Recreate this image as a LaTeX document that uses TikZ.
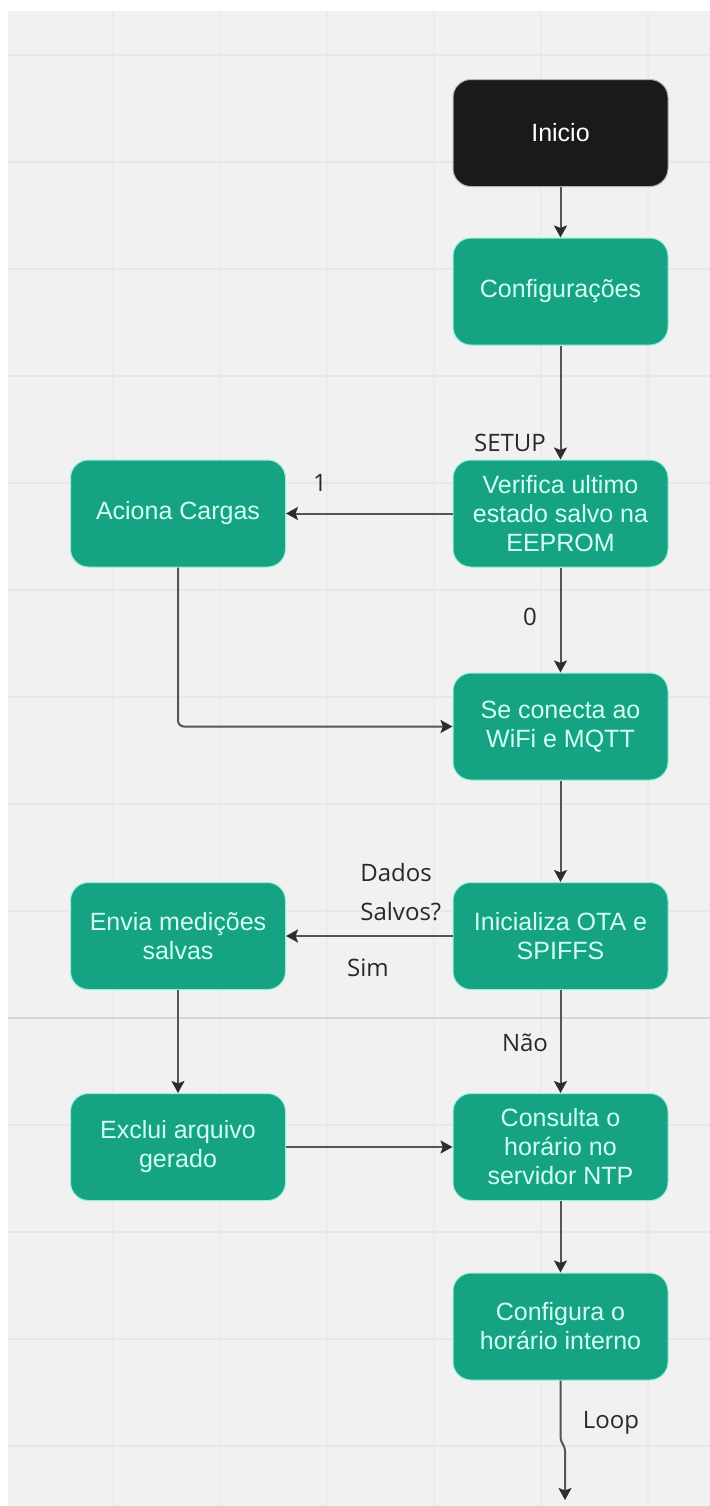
\documentclass[tikz,border=0pt]{standalone}
\usepackage{fontspec}
\setmainfont{Liberation Sans}
\newfontfamily\lblfont{Open Sans}
\usetikzlibrary{arrows.meta}
\definecolor{boxgreen}{RGB}{22,163,132}
\definecolor{boxtext}{RGB}{210,255,240}
\definecolor{boxedge}{RGB}{150,240,215}
\definecolor{startfill}{RGB}{26,26,26}
\definecolor{canvas}{RGB}{241,241,241}
\definecolor{gridv}{RGB}{235,235,235}
\definecolor{gridh}{RGB}{231,231,231}
\definecolor{gridmajor}{RGB}{214,214,214}
\definecolor{linkgray}{RGB}{85,85,85}
\definecolor{tipgray}{RGB}{45,45,45}
\definecolor{labelgray}{RGB}{40,40,40}

\begin{document}
\begin{tikzpicture}[x=0.5pt,y=-0.5pt,
  stepbox/.style={rectangle, rounded corners=9pt, minimum width=107.5pt,
    minimum height=53.5pt, fill=boxgreen, draw=boxedge, line width=0.5pt,
    text=boxtext, align=center, font=\fontsize{12.5}{14.5}\selectfont, inner sep=0pt},
  startbox/.style={stepbox, fill=startfill, draw=gray!60, text=white},
  conn/.style={draw=linkgray, line width=1pt,
    -{Stealth[length=6pt,width=6.5pt,inset=1.2pt,fill=tipgray,color=tipgray]}},
  lbl/.style={font=\lblfont\fontsize{12}{15}\selectfont, text=labelgray, inner sep=0pt}
]
% canvas and grid
\useasboundingbox (0,0) rectangle (710,1506);
\fill[white] (0,0) rectangle (710,1506);
\fill[canvas] (8,11) rectangle (710,1506);
\foreach \gx in {113,220,327,434,541,648}
  \draw[gridv, line width=1pt] (\gx,11) -- (\gx,1506);
\foreach \gy in {55,162,269,376,483,590,697,804,911,1125,1232,1339,1446}
  \draw[gridh, line width=0.8pt] (8,\gy) -- (710,\gy);
\draw[gridmajor, line width=0.7pt] (8,1018) -- (710,1018);

% process steps
\node[startbox] (start)    at (560.5,133)    {Inicio};
\node[stepbox]  (cfgs)     at (560.5,291.5)  {Configurações};
\node[stepbox]  (verif)    at (560.5,513.5)  {Verifica ultimo\\estado salvo na\\EEPROM};
\node[stepbox]  (aciona)   at (178,513.5)    {Aciona Cargas};
\node[stepbox]  (conecta)  at (560.5,726.5)  {Se conecta ao\\WiFi e MQTT};
\node[stepbox]  (inic)     at (560.5,936)    {Inicializa OTA e\\SPIFFS};
\node[stepbox]  (envia)    at (178,936)      {Envia medições\\salvas};
\node[stepbox]  (exclui)   at (178,1147)     {Exclui arquivo\\gerado};
\node[stepbox]  (consulta) at (560.5,1147)   {Consulta o\\horário no\\servidor NTP};
\node[stepbox]  (confhora) at (560.5,1326.5) {Configura o\\horário interno};

% connectors
\draw[conn] (start) -- (cfgs);
\draw[conn] (cfgs) -- (verif);
\draw[conn] (verif) -- (aciona);
\draw[conn] (verif) -- (conecta);
\draw[conn, rounded corners=3pt] (aciona.south) |- (conecta.west);
\draw[conn] (conecta) -- (inic);
\draw[conn] (inic) -- (envia);
\draw[conn] (inic) -- (consulta);
\draw[conn] (envia) -- (exclui);
\draw[conn] (exclui) -- (consulta);
\draw[conn] (consulta) -- (confhora);
\coordinate (jogtop) at (560.5,1440);
\coordinate (jogbot) at (565,1448);
\coordinate (loopend) at (565,1500);
\draw[conn, rounded corners=1.5pt] (confhora.south) -- (jogtop) -- (jogbot) -- (loopend);

% connector labels
\node[lbl] (setup) at (510,443) {SETUP};
\node[lbl] (one)   at (320,483) {1};
\node[lbl] (zero)  at (530,617) {0};
\node[lbl, align=left, anchor=west, font=\lblfont\fontsize{12}{19.5}\selectfont]
  (dados) at (360,892.5) {Dados\\Salvos?};
\node[lbl] (sim)   at (368,968)  {Sim};
\node[lbl] (nao)   at (525,1043) {Não};
\node[lbl] (loop)  at (611,1423) {Loop};
\end{tikzpicture}
\end{document}
